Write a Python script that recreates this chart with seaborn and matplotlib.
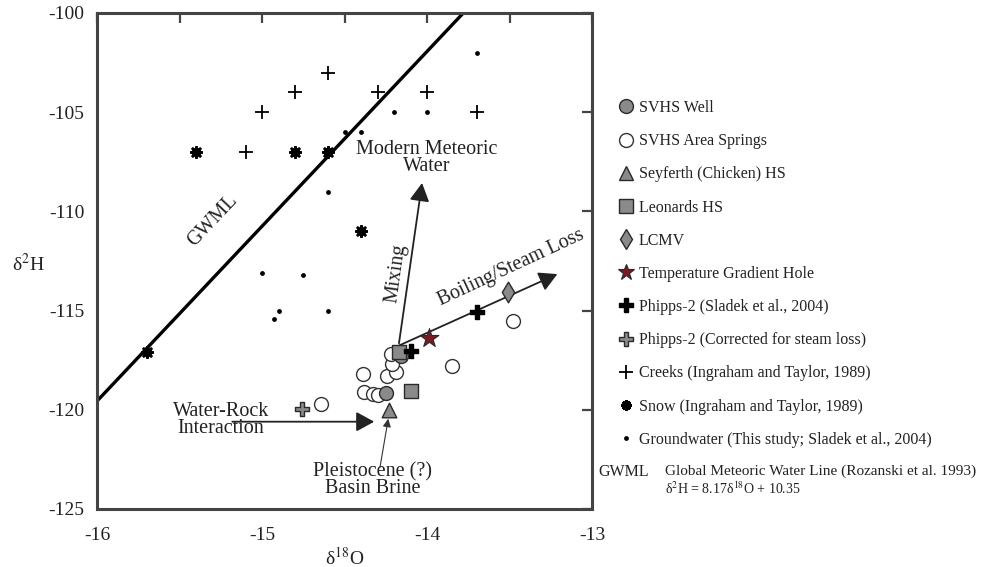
import matplotlib
matplotlib.use("Agg")
import matplotlib.pyplot as plt
from matplotlib.lines import Line2D
import seaborn as sns
import numpy as np
import pandas as pd

# d18O / d2H values
well_o = [-14.16, -14.25]
well_h = [-117.3, -119.15]

springs_o = [-14.64, -14.39, -14.38, -14.33, -14.30, -14.24, -14.19, -14.21, -14.22, -13.85, -13.48]
springs_h = [-119.7, -118.2, -119.1, -119.2, -119.25, -118.3, -118.1, -117.7, -117.2, -117.8, -115.5]

seyferth_o = [-14.23]
seyferth_h = [-120.0]

leonards_o = [-14.17, -14.10]
leonards_h = [-117.1, -119.05]

lcmv_o = [-13.51]
lcmv_h = [-114.05]

tgh_o = [-13.99]
tgh_h = [-116.4]

phipps_o = [-14.10, -13.70]
phipps_h = [-117.05, -115.05]

phipps_corr_o = [-14.76]
phipps_corr_h = [-119.98]

creeks_o = [-14.6, -14.8, -14.3, -14.0, -15.0, -13.7, -15.1]
creeks_h = [-103.0, -104.0, -104.0, -104.0, -105.0, -105.0, -107.0]

snow_o = [-15.4, -14.8, -14.6, -14.4, -15.7]
snow_h = [-107.0, -107.0, -107.0, -111.0, -117.1]

gw_o = [-13.7, -14.2, -14.0, -14.5, -14.4, -14.6, -15.0, -14.75, -14.9, -14.93, -14.6]
gw_h = [-102.0, -105.0, -105.0, -106.0, -106.0, -109.0, -113.1, -113.2, -115.0, -115.4, -115.0]

# GWML as drawn in the figure
gwml_o = [-16.0, -13.78]
gwml_h = [-119.56, -100.0]

# process arrows (start, tip)
mixing_arrow = [(-14.17, -116.65), (-14.03, -108.57)]
boiling_arrow = [(-14.18, -116.8), (-13.21, -113.16)]
rock_arrow = [(-15.18, -120.6), (-14.32, -120.6)]
brine_arrow = [(-14.285, -122.9), (-14.235, -120.45)]

x_ticks = np.arange(-16, -12.9, 0.5)
y_ticks = np.arange(-125, -99, 5)

GRAY = "#8a8a8a"
EDGE = "#2a2a2a"

sns.set_style("white")
plt.rcParams["font.family"] = ["Liberation Serif", "DejaVu Serif"]
plt.rcParams["mathtext.fontset"] = "stix"
plt.rcParams["axes.unicode_minus"] = False

fig = plt.figure(figsize=(9.89, 5.67), dpi=100)
ax = fig.add_axes([0.0981, 0.1023, 0.5005, 0.8748])

# meteoric water line
sns.lineplot(x=gwml_o, y=gwml_h, color="black", lw=2.4, ax=ax, legend=False)

groups = [
    ("Creeks (Ingraham and Taylor, 1989)", creeks_o, creeks_h, "+", 110, "black", "black", 1.3),
    ("Snow (Ingraham and Taylor, 1989)", snow_o, snow_h, (8, 2, 0), 55, "black", "black", 2.0),
    ("Groundwater (This study; Sladek et al., 2004)", gw_o, gw_h, "o", 12, "black", "black", 0),
    ("SVHS Area Springs", springs_o, springs_h, "o", 100, "white", "#333333", 1.0),
    ("SVHS Well", well_o, well_h, "o", 100, GRAY, EDGE, 1.0),
    ("Leonards HS", leonards_o, leonards_h, "s", 110, GRAY, EDGE, 1.0),
    ("Seyferth (Chicken) HS", seyferth_o, seyferth_h, "^", 110, GRAY, EDGE, 1.0),
    ("LCMV", lcmv_o, lcmv_h, "d", 110, GRAY, EDGE, 1.0),
    ("Phipps-2 (Sladek et al., 2004)", phipps_o, phipps_h, "P", 110, "black", "black", 1.0),
    ("Phipps-2 (Corrected for steam loss)", phipps_corr_o, phipps_corr_h, "P", 110, GRAY, EDGE, 1.0),
    ("Temperature Gradient Hole", tgh_o, tgh_h, "*", 200, "#7a1a22", EDGE, 0.8),
]

for label, xs, ys, mk, size, face, edge, lw in groups:
    df = pd.DataFrame({"o": xs, "h": ys})
    if mk in ("+", (8, 2, 0)):
        sns.scatterplot(data=df, x="o", y="h", marker=mk, s=size, color=face,
                        linewidth=lw, ax=ax, legend=False, zorder=3)
    else:
        sns.scatterplot(data=df, x="o", y="h", marker=mk, s=size, color=face,
                        edgecolor=edge, linewidth=lw, ax=ax, legend=False, zorder=3)

arrow_kw = dict(arrowstyle="-|>,head_length=0.55,head_width=0.3", color="#222222",
                lw=1.3, mutation_scale=20, shrinkA=0, shrinkB=0)
for start, tip in [mixing_arrow, boiling_arrow, rock_arrow]:
    ax.annotate("", xy=tip, xytext=start, arrowprops=arrow_kw, zorder=2)
ax.annotate("", xy=brine_arrow[1], xytext=brine_arrow[0], zorder=2,
            arrowprops=dict(arrowstyle="-|>,head_length=0.4,head_width=0.2", color="#333333",
                            lw=0.8, mutation_scale=12, shrinkA=0, shrinkB=0))

txt_kw = dict(ha="center", va="center", fontsize=14.5, color="#222222")
ax.text(-14.0, -107.3, "Modern Meteoric\nWater", linespacing=0.85, **txt_kw)
ax.text(-14.19, -113.1, "Mixing", rotation=82, **txt_kw)
ax.text(-13.49, -112.85, "Boiling/Steam Loss", rotation=25, **txt_kw)
ax.text(-15.25, -120.5, "Water-Rock\nInteraction", linespacing=0.85, **txt_kw)
ax.text(-14.33, -123.55, "Pleistocene (?)\nBasin Brine", linespacing=0.85, **txt_kw)
ax.text(-15.30, -110.45, "GWML", rotation=46.7, **txt_kw)

ax.set_xlim(-16, -13)
ax.set_ylim(-125, -100)
ax.set_xticks(x_ticks)
ax.set_xticklabels([f"{v:g}" if v == int(v) else "" for v in x_ticks])
ax.set_yticks(y_ticks)
ax.set_yticklabels([f"{v:g}" for v in y_ticks])
ax.tick_params(direction="in", length=7, width=1.6, top=True, right=True,
               labelsize=14, colors="#444444", labelcolor="#222222")
ax.tick_params(axis="x", pad=13)
ax.tick_params(axis="y", pad=9)
for sp in ax.spines.values():
    sp.set_linewidth(2.2)
    sp.set_color("#444444")

ax.set_xlabel("δ$^{18}$O", fontsize=14, color="#222222")
ax.xaxis.set_label_coords(0.501, -0.097)
ax.xaxis.label.set_va("center")
ax.set_ylabel("δ$^{2}$H", fontsize=14, rotation=0, color="#222222")
ax.yaxis.set_label_coords(-0.139, 0.494)
ax.yaxis.label.set_ha("center")
ax.yaxis.label.set_va("center")

# legend
order = ["SVHS Well", "SVHS Area Springs", "Seyferth (Chicken) HS", "Leonards HS", "LCMV",
         "Temperature Gradient Hole", "Phipps-2 (Sladek et al., 2004)",
         "Phipps-2 (Corrected for steam loss)", "Creeks (Ingraham and Taylor, 1989)",
         "Snow (Ingraham and Taylor, 1989)", "Groundwater (This study; Sladek et al., 2004)"]
spec = {g[0]: g for g in groups}
handles = []
for name in order:
    _, _, _, mk, size, face, edge, lw = spec[name]
    msize = min(np.sqrt(size), 12)
    if mk in ("+", (8, 2, 0)):
        h = Line2D([], [], ls="", marker=mk, markersize=msize, color=face, markeredgewidth=lw)
    else:
        h = Line2D([], [], ls="", marker=mk, markersize=msize, markerfacecolor=face,
                   markeredgecolor=edge, markeredgewidth=lw)
    handles.append(h)
fig.legend(handles, order, loc="upper left", bbox_to_anchor=(618 / 989, 1 - 100 / 567),
           frameon=False, fontsize=11.5, handlelength=1.0, handletextpad=0.3,
           labelspacing=1.075, borderpad=0, borderaxespad=0, labelcolor="#222222")

fig.text(598 / 989, 1 - 471.7 / 567, "GWML", va="center", fontsize=11.5, color="#222222")
fig.text(665 / 989, 1 - 471.7 / 567, "Global Meteoric Water Line (Rozanski et al. 1993)",
         va="center", fontsize=11, color="#222222")
fig.text(665 / 989, 1 - 489 / 567, "δ$^{2}$H = 8.17δ$^{18}$O + 10.35",
         va="center", fontsize=10, color="#222222")

fig.savefig("out.png", dpi=100)
